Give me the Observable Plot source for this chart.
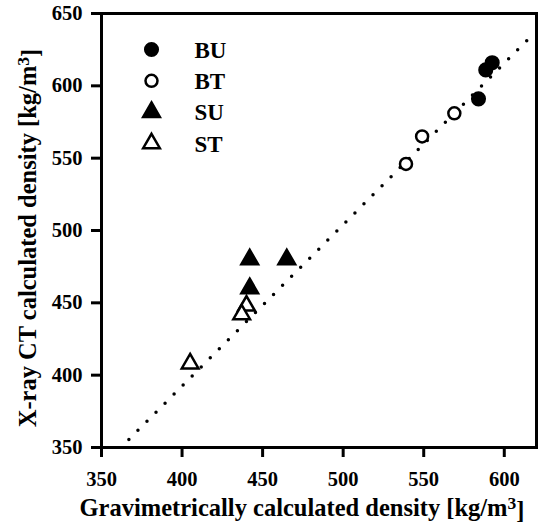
<!DOCTYPE html>
<html>
<head>
<meta charset="utf-8">
<script src="https://cdn.jsdelivr.net/npm/d3@7"></script>
<script src="https://cdn.jsdelivr.net/npm/@observablehq/plot@0.6"></script>
<style>
  html, body { margin: 0; padding: 0; background: #fff; }
</style>
</head>
<body>
<div id="chart"></div>
<script>
// Series names
const series = ["BU", "BT", "SU", "ST"];
// Gravimetric density (x) and CT density (y) per series
const buX = [592.5, 588.5, 584];
const buY = [616, 611, 591];
const btX = [569, 549, 539];
const btY = [581, 565, 546];
const suX = [442, 465, 442];
const suY = [480, 480, 460];
const stX = [440, 437, 405];
const stY = [448, 442, 408];
// Fit line end points
const fitX = [367, 617];
const fitY = [355.6, 634.6];
// Axis ticks
const xTicks = [350, 400, 450, 500, 550, 600];
const yTicks = [350, 400, 450, 500, 550, 600, 650];

const styles = {
  BU: {symbol: "circle", fill: "black", stroke: "black", r: 6.3},
  BT: {symbol: "circle", fill: "white", stroke: "black", r: 6},
  SU: {symbol: "triangle", fill: "black", stroke: "black", r: 6.2},
  ST: {symbol: "triangle", fill: "white", stroke: "black", r: 6.2}
};
const xs = {BU: buX, BT: btX, SU: suX, ST: stX};
const ys = {BU: buY, BT: btY, SU: suY, ST: stY};
const points = series.flatMap(s => xs[s].map((x, i) => ({s, x, y: ys[s][i]})));
const fit = fitX.map((x, i) => ({x, y: fitY[i]}));

const pointMarks = series.map(s => Plot.dot(points.filter(d => d.s === s), {
  x: "x", y: "y", symbol: styles[s].symbol, r: styles[s].r,
  fill: styles[s].fill, stroke: styles[s].stroke, strokeWidth: 2.5
}));
const legendMarks = series.flatMap((s, i) => [
  Plot.dot([s], {frameAnchor: "top-left", dx: 50, dy: 36 + 31.3 * i,
    symbol: styles[s].symbol, r: styles[s].r, fill: styles[s].fill,
    stroke: styles[s].stroke, strokeWidth: 2.5}),
  Plot.text([s], {frameAnchor: "top-left", dx: 93, dy: 37 + 31.3 * i, text: d => d,
    textAnchor: "start", lineAnchor: "middle", fontSize: 23, fontWeight: "bold"})
]);

const chart = Plot.plot({
  width: 538, height: 525,
  marginLeft: 101, marginRight: 2, marginTop: 13, marginBottom: 78,
  style: {fontFamily: "'Liberation Serif', 'Times New Roman', serif", fontSize: "20px", fontWeight: "bold", color: "black", background: "white"},
  x: {domain: [350, 620], ticks: xTicks, label: null},
  y: {domain: [350, 650], ticks: yTicks, label: null},
  marks: [
    Plot.line(fit, {x: "x", y: "y", stroke: "black", strokeWidth: 3.5, strokeDasharray: "0,12.8", strokeLinecap: "round", clip: true}),
    ...pointMarks,
    ...legendMarks,
    Plot.axisX({ticks: xTicks, tickSize: 10, strokeWidth: 3, tickPadding: 14, fontSize: 20.5, fontWeight: "bold", label: null}),
    Plot.axisY({ticks: yTicks, tickSize: 10, strokeWidth: 3, tickPadding: 9, fontSize: 20.5, fontWeight: "bold", label: null}),
    Plot.frame({stroke: "black", strokeWidth: 3})
  ]
});

const svg = d3.select(chart);
const xt = svg.append("text")
  .attr("x", 302).attr("y", 516)
  .attr("text-anchor", "middle")
  .attr("font-size", 24.5).attr("font-weight", "bold").attr("fill", "black");
xt.append("tspan").text("Gravimetrically calculated density [kg/m");
xt.append("tspan").attr("dy", "-0.4em").attr("font-size", 17.5).text("3");
xt.append("tspan").attr("dy", "0.4em").text("]");

const yt = svg.append("text")
  .attr("transform", "translate(36,238) rotate(-90)")
  .attr("text-anchor", "middle")
  .attr("font-size", 24.5).attr("font-weight", "bold").attr("fill", "black");
yt.append("tspan").text("X-ray CT calculated density [kg/m");
yt.append("tspan").attr("dy", "-0.4em").attr("font-size", 17.5).text("3");
yt.append("tspan").attr("dy", "0.4em").text("]");

document.getElementById("chart").appendChild(chart);
</script>
</body>
</html>
